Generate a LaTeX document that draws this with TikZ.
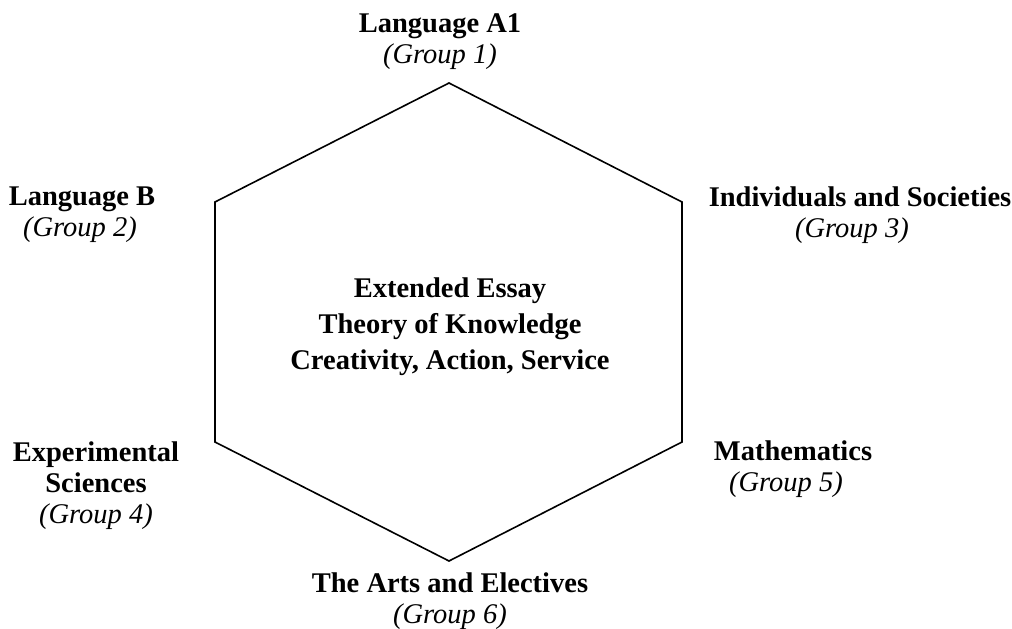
\documentclass[tikz,border=0pt]{standalone}
\usepackage{fontspec}
\setmainfont{Liberation Serif}
\begin{document}
\begin{tikzpicture}[x=1pt,y=-1pt,
  lbl/.style={align=center,inner sep=0pt,anchor=base,font=\fontsize{28.5}{31}\selectfont\bfseries},
  corelbl/.style={lbl,font=\fontsize{28.5}{36}\selectfont\bfseries},
  hexline/.style={line width=1.6pt,line join=miter}]
\useasboundingbox (0,0) rectangle (1012,629);
\coordinate (v1) at (449,83);
\coordinate (v2) at (682,202);
\coordinate (v3) at (682,442);
\coordinate (v4) at (449,561);
\coordinate (v5) at (215,442);
\coordinate (v6) at (215,202);
\draw[hexline] (v1) -- (v2) -- (v3) -- (v4) -- (v5) -- (v6) -- cycle;
% base anchor = baseline of the last line
\node[lbl] (g1) at (440,63) {Language A1\\\mdseries\itshape (Group 1)};
\node[lbl] (g2) at (82,236) {Language B\\\mdseries\itshape (Group 2)\hspace*{4pt}};
\node[lbl] (g3) at (860,237) {Individuals and Societies\\\mdseries\itshape (Group 3)\hspace*{16pt}};
\node[lbl] (g4) at (96,523) {Experimental\\Sciences\\\mdseries\itshape (Group 4)};
\node[lbl] (g5) at (793,491) {Mathematics\\\mdseries\itshape (Group 5)\hspace*{14pt}};
\node[lbl] (g6) at (450,623) {The Arts and Electives\\\mdseries\itshape (Group 6)};
\node[corelbl] (core) at (450,369) {Extended Essay\\Theory of Knowledge\\Creativity, Action, Service};
\end{tikzpicture}
\end{document}
